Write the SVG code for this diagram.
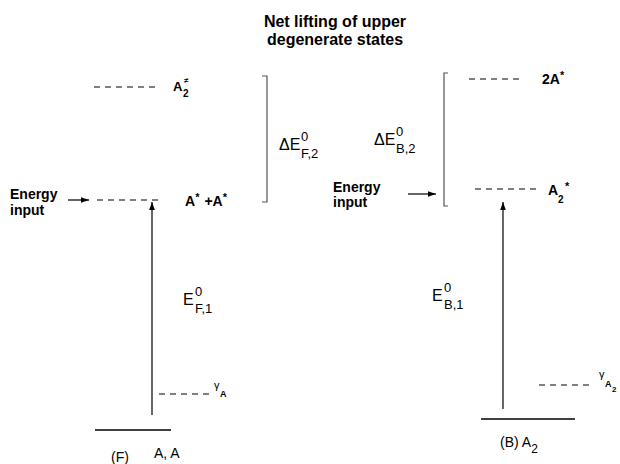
<svg xmlns="http://www.w3.org/2000/svg" width="620" height="464" viewBox="0 0 620 464">
<defs>
<marker id="ah" viewBox="0 0 10 10" refX="10" refY="5" markerWidth="8" markerHeight="8" markerUnits="userSpaceOnUse" orient="auto">
<path d="M0,1.5 L10,5 L0,8.5 z" fill="#000"/>
</marker>
</defs>
<style>
text{font-family:"Liberation Sans",Arial,sans-serif;fill:#000}
.b{font-weight:bold}
.m{font-size:16px}
.s{font-size:13px}
.lvl{stroke:#000;stroke-width:1.2;stroke-dasharray:6,5;fill:none}
.gr{stroke:#000;stroke-width:1.5;fill:none}
.br{stroke:#555;stroke-width:1.2;fill:none}
.arr{stroke:#000;stroke-width:1.2;fill:none;marker-end:url(#ah)}
</style>
<rect width="620" height="464" fill="#fff"/>
<g id="title">
<text class="b" x="335" y="27" font-size="16" text-anchor="middle">Net lifting of upper</text>
<text class="b" x="335" y="45" font-size="16" text-anchor="middle">degenerate states</text>
</g>
<g id="F-A2-excited">
<line class="lvl" x1="94" y1="87" x2="158" y2="87"/>
<text class="b" x="173" y="91" font-size="13">A</text>
<text class="b" x="183" y="97" font-size="10">2</text>
<text class="b" x="184" y="83" font-size="8">≠</text>
</g>
<g id="F-excited">
<line class="lvl" x1="97" y1="200" x2="162" y2="200"/>
<text class="b" x="185" y="206" font-size="14">A<tspan font-size="11" dy="-5">*</tspan><tspan dy="5" dx="5">+A</tspan><tspan font-size="11" dy="-5">*</tspan></text>
</g>
<g id="F-energy-input">
<text class="b" x="10" y="199" font-size="14">Energy</text>
<text class="b" x="10" y="215" font-size="14">input</text>
</g>
<g id="F-bracket">
<path class="br" d="M262,76 H267 V202 H262"/>
<text class="m" x="279" y="150">ΔE</text>
<text class="s" x="301" y="141">0</text>
<text class="s" x="301" y="158">F,2</text>
</g>
<g id="F-E1">
<text class="m" x="183" y="305">E</text>
<text class="s" x="195" y="296">0</text>
<text class="s" x="195" y="313">F,1</text>
</g>
<g id="F-gamma">
<line class="lvl" x1="159" y1="394" x2="212" y2="394"/>
<text x="214" y="389" font-size="11">γ</text>
<text class="b" x="220" y="397" font-size="9">A</text>
</g>
<g id="F-ground">
<line class="gr" x1="95" y1="430" x2="171" y2="430"/>
<text x="111" y="462" font-size="14">(F)</text>
<text x="154" y="458" font-size="14">A, A</text>
</g>
<g id="B-2A">
<line class="lvl" x1="469" y1="79" x2="523" y2="79"/>
<text class="b" x="542" y="84" font-size="14">2A<tspan font-size="11" dy="-5">*</tspan></text>
</g>
<g id="B-excited">
<line class="lvl" x1="475" y1="189" x2="537" y2="189"/>
<text class="b" x="548" y="195" font-size="14">A</text>
<text class="b" x="558" y="203" font-size="10">2</text>
<text class="b" x="565" y="190" font-size="11">*</text>
</g>
<g id="B-energy-input">
<text class="b" x="333" y="192" font-size="14">Energy</text>
<text class="b" x="333" y="207" font-size="14">input</text>
</g>
<g id="B-bracket">
<path class="br" d="M448,73 H444 V206 H448"/>
<text class="m" x="374" y="145">ΔE</text>
<text class="s" x="396" y="136">0</text>
<text class="s" x="396" y="153">B,2</text>
</g>
<g id="B-E1">
<text class="m" x="432" y="301">E</text>
<text class="s" x="444" y="292">0</text>
<text class="s" x="444" y="309">B,1</text>
</g>
<g id="B-gamma">
<line class="lvl" x1="539" y1="385" x2="592" y2="385"/>
<text x="599" y="378" font-size="11">γ</text>
<text class="b" x="605" y="387" font-size="9">A</text>
<text class="b" x="612" y="392" font-size="8">2</text>
</g>
<g id="B-ground">
<line class="gr" x1="481" y1="419" x2="575" y2="419"/>
<text x="500" y="447" font-size="14">(B) A<tspan font-size="12" dy="6">2</tspan></text>
</g>
<g id="connectors">
<line class="arr" x1="68" y1="200" x2="89" y2="200"/>
<line class="arr" x1="408" y1="194" x2="436" y2="194"/>
<line class="arr" x1="152" y1="415" x2="152" y2="202"/>
<line class="arr" x1="503" y1="409" x2="503" y2="202"/>
</g>
</svg>
